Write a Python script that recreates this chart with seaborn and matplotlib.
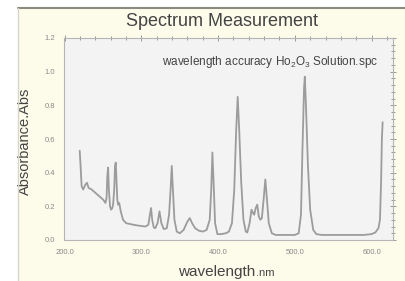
import matplotlib
matplotlib.use('Agg')
import matplotlib.pyplot as plt
import seaborn as sns
import pandas as pd
from matplotlib.patches import Rectangle
from matplotlib.ticker import MultipleLocator, FormatStrFormatter

# spectrum (nm, Abs)
wavelength = [219.5, 220.5, 222, 224, 227, 229, 231, 235, 240, 245, 250, 253,
              254.5, 255.5, 256.5, 257.5, 259, 260.5, 262, 263, 264.5, 265.5,
              266.5, 267.5, 268.5, 269.5, 271, 273, 276, 280, 285, 290, 297,
              305, 309, 311, 312.5, 314, 316, 318, 321, 323.5, 326, 329, 333,
              336, 338, 339.5, 341, 343, 346, 350, 355, 360, 363, 366, 370,
              375, 380, 385, 389, 391, 392.5, 394, 396, 399, 404, 410, 414,
              418, 421, 423.5, 425.5, 427.5, 430, 433, 436, 438, 441, 443.5,
              445.5, 447, 449, 451, 453, 455, 457, 459.5, 461.5, 463.5, 466,
              470, 475, 490, 500, 505, 508, 510, 512, 513, 514.5, 517, 520,
              524, 528, 535, 560, 590, 600, 605, 609, 611, 612.5, 613.5, 614.5]
absorbance = [0.53, 0.45, 0.32, 0.30, 0.33, 0.34, 0.31, 0.30, 0.28, 0.26, 0.24, 0.22,
              0.25, 0.38, 0.43, 0.30, 0.20, 0.18, 0.19, 0.21, 0.30, 0.44,
              0.46, 0.35, 0.24, 0.21, 0.22, 0.17, 0.12, 0.10, 0.095, 0.09, 0.085,
              0.08, 0.09, 0.15, 0.19, 0.12, 0.075, 0.07, 0.10, 0.17, 0.10, 0.065, 0.07,
              0.15, 0.30, 0.44, 0.30, 0.12, 0.05, 0.04, 0.06, 0.11, 0.13, 0.10, 0.07,
              0.055, 0.05, 0.06, 0.12, 0.30, 0.52, 0.35, 0.10, 0.035, 0.035, 0.04, 0.05,
              0.10, 0.30, 0.65, 0.85, 0.65, 0.35, 0.12, 0.05, 0.045, 0.10, 0.18,
              0.16, 0.15, 0.19, 0.21, 0.14, 0.12, 0.13, 0.25, 0.36, 0.25, 0.10,
              0.04, 0.03, 0.03, 0.03, 0.04, 0.15, 0.55, 0.90, 0.97, 0.80, 0.45, 0.18,
              0.06, 0.035, 0.03, 0.03, 0.03, 0.035, 0.045, 0.07, 0.12, 0.35, 0.60, 0.70]

df = pd.DataFrame({'wavelength': wavelength, 'absorbance': absorbance})

sns.set_style('white')
plt.rcParams['font.family'] = ['Liberation Sans', 'DejaVu Sans']
plt.rcParams['mathtext.default'] = 'regular'

fig = plt.figure(figsize=(4.06, 2.81), dpi=100)
fig.patch.set_facecolor('white')
# cream panel behind the chart
fig.patches.append(Rectangle((18 / 406, 0), 1, 1 - 8 / 281, transform=fig.transFigure,
                             facecolor='#fdfbea', edgecolor='none', zorder=-2))
fig.lines.append(plt.Line2D([18 / 406, 1], [1 - 8 / 281, 1 - 8 / 281], transform=fig.transFigure,
                            color='#8a8a80', lw=1.5))
fig.lines.append(plt.Line2D([18 / 406, 18 / 406], [0, 1 - 8 / 281], transform=fig.transFigure,
                            color='#d8d6c8', lw=1))

ax = fig.add_axes([64 / 406, 41 / 281, 329 / 406, 202 / 281])
ax.set_facecolor('#f3f3f3')
sns.lineplot(data=df, x='wavelength', y='absorbance', ax=ax, color='#9c9c9c', lw=1.3)

ax.set_xlim(199, 628)
ax.set_ylim(0, 1.2)
ax.xaxis.set_major_locator(MultipleLocator(100))
ax.xaxis.set_minor_locator(MultipleLocator(20))
ax.yaxis.set_major_locator(MultipleLocator(0.2))
ax.yaxis.set_minor_locator(MultipleLocator(0.04))
ax.xaxis.set_major_formatter(FormatStrFormatter('%.1f'))
ax.yaxis.set_major_formatter(FormatStrFormatter('%.1f'))
ax.tick_params(which='both', direction='inout', top=True, right=True, colors='#8a8a8a',
               labelsize=5.5, labelcolor='#8a8a8a', width=0.6)
ax.tick_params(which='major', length=5, pad=4)
ax.tick_params(which='minor', length=3)
for s in ax.spines.values():
    s.set_color('#b5b5b5')
    s.set_linewidth(0.8)

ax.set_xlabel('')
ax.set_ylabel('Absorbance.Abs', fontsize=10.5, color='#444444')
ax.yaxis.set_label_coords(-0.098, 0.49)

fig.text(222 / 406, 1 - 21 / 281, 'Spectrum Measurement', ha='center', va='center',
         fontsize=13, color='#444444')
ax.text(0.955, 0.88, 'wavelength accuracy Ho$_2$O$_3$ Solution.spc', transform=ax.transAxes,
        ha='right', va='center', fontsize=8.5, color='#444444')
fig.text(255 / 406, 1 - 272 / 281, 'wavelength', ha='right', va='center',
         fontsize=11, color='#444444')
fig.text(256 / 406, 1 - 273 / 281, '.nm', ha='left', va='center',
         fontsize=8, color='#444444')

fig.savefig('out.png', dpi=100)
